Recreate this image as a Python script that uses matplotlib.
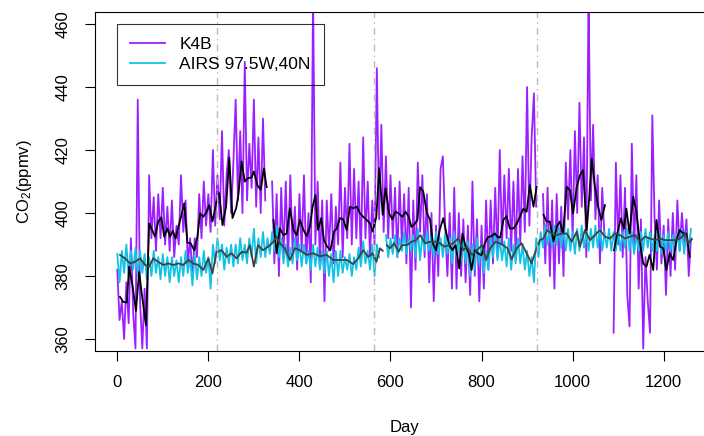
import numpy as np
import matplotlib
matplotlib.use("Agg")
import matplotlib.pyplot as plt

plt.rcParams['font.family'] = ['Liberation Sans', 'DejaVu Sans']
plt.rcParams['mathtext.fontset'] = 'custom'
plt.rcParams['mathtext.rm'] = 'Liberation Sans'
plt.rcParams['mathtext.it'] = 'Liberation Sans'

nan = np.nan

# K4B daily series, sampled every 5 days (day 0 .. 1260)
k4b_days = np.arange(0, 1265, 5)
k4b_co2 = [
    382, 366, 372, 360, 378, 365, 392, 368, 357, 436, 372, 357, 376, 357, 412, 392, 405, 388, 406, 392,
    408, 390, 402, 388, 404, 386, 396, 390, 412, 394, 404, 384, 392, 380, 392, 386, 406, 392, 410, 396,
    406, 394, 420, 396, 412, 398, 426, 396, 412, 420, 400, 416, 436, 404, 426, 400, 448, 404, 422, 408,
    436, 402, 424, 400, 430, 404, nan, nan, 410, 384, 406, 380, 408, 386, 410, 384, 412, 388, 402, 382,
    406, 388, 412, 384, 400, 378, 470, 390, 410, 384, 404, 372, 404, 388, 406, 384, 402, 390, 416, 386,
    408, 392, 422, 390, 414, 392, 410, 386, 424, 392, 410, 386, 404, 390, 446, 398, 428, 394, 418, 392,
    412, 392, 408, 386, 410, 390, 406, 384, 408, 370, 404, 382, 416, 394, 412, 386, 406, 378, 400, 372,
    396, 380, 414, 418, 396, 380, 400, 376, 408, 376, 400, 380, 398, 378, 396, 374, 410, 380, 398, 372,
    396, 376, 404, 382, 404, 384, 408, 386, 420, 390, 412, 392, 414, 388, 410, 386, 414, 390, 418, 394,
    440, 396, 424, 438, 402, nan, nan, 406, 384, 408, 380, 404, 376, 406, 384, 402, 380, 416, 398, 420,
    392, 426, 400, 435, 402, 424, 386, 470, 404, 428, 398, 412, 384, 408, 392, nan, nan, nan, 362, 416,
    390, 412, 386, 408, 374, 364, 422, 388, 412, 376, 398, 357, 386, 372, 362, 431, 398, 382, 404, 384,
    396, 374, 398, 380, 400, 382, 404, 388, 400, 390, 398, 380, 392,
]

# AIRS 97.5W,40N daily series, sampled every 5 days
airs_days = np.arange(0, 1265, 5)
airs_co2 = [
    387, 378, 388, 381, 390, 380, 388, 382, 389, 380, 388, 381, 387, 379, 386, 380, 388, 381, 386, 379,
    387, 380, 386, 378, 386, 380, 385, 378, 386, 380, 388, 381, 386, 377, 387, 379, 386, 380, 388, 381,
    386, 376, 390, 384, 392, 385, 390, 382, 389, 384, 390, 383, 390, 384, 392, 385, 390, 384, 392, 386,
    395, 384, 392, 386, 394, 386, 392, 387, 394, 388, 396, 386, 392, 384, 390, 383, 389, 384, 392, 385,
    390, 383, 390, 384, 388, 382, 390, 383, 389, 382, 388, 381, 388, 380, 387, 378, 388, 380, 388, 381,
    386, 382, 387, 380, 386, 382, 389, 383, 391, 384, 388, 382, 390, 380, 390, 386, nan, nan, 393, 386,
    392, 387, 393, 386, 392, 388, 394, 387, 392, 388, 393, 386, 395, 385, 393, 388, 394, 388, 393, 386,
    394, 387, 392, 386, 393, 387, 392, 384, 394, 386, 392, 385, 392, 384, 391, 380, 390, 382, 392, 384,
    390, 381, 388, 382, 392, 386, 394, 385, 392, 385, 391, 383, 392, 382, 390, 384, 392, 384, 390, 382,
    388, 380, 386, 378, 392, 386, 394, 389, 396, 390, 395, 389, 396, 390, 395, 389, 396, 388, 395, 388,
    394, 387, 395, 388, 396, 389, 394, 388, 395, 389, 396, 389, 395, 388, 394, 389, 395, 388, 394, 388,
    395, 388, 394, 389, 395, 388, 394, 387, 393, 388, 394, 388, 395, 389, 394, 388, 393, 388, 394, 387,
    393, 388, 394, 388, 393, 387, 394, 388, 395, 387, 394, 389, 395,
]

# weekly means of K4B (black)
k4b_wk_days = [6, 13, 21, 26, 34, 41, 48, 56, 63, 70, 83, 90, 97, 103, 110, 116, 122, 128, 134, 140,
               147, 154, 161, 169, 176, 182, 189, 196, 202, 209, 217, 224, 231, 239, 246, 253, 261, 266, 273, 280,
               287, 295, 300, 308, 315, 322, 328, 335, 343, 350, 357, 365, 372, 379, 387, 394, 401, 409, 416, 423,
               429, 435, 441, 448, 454, 461, 468, 476, 482, 489, 496, 504, 511, 518, 526, 533, 540, 548, 555, 561,
               569, 575, 583, 589, 597, 604, 611, 618, 626, 633, 640, 646, 653, 659, 665, 672, 680, 687, 693, 700,
               708, 716, 723, 729, 736, 743, 751, 758, 765, 772, 778, 785, 792, 800, 807, 814, 822, 829, 836, 841,
               848, 855, 862, 870, 877, 884, 892, 899, 906, 914, 921, 928, 936, 943, 950, 958, 965, 972, 979, 987,
               994, 1001, 1009, 1016, 1023, 1031, 1036, 1042, 1049, 1056, 1063, 1071, 1080, 1091, 1098, 1106, 1113, 1118, 1125, 1133,
               1140, 1147, 1155, 1162, 1169, 1177, 1184, 1192, 1199, 1206, 1213, 1221, 1228, 1235, 1243, 1250, 1257]
k4b_wk_co2 = [373.4, 371.8, 371.6, 383.0, 376.5, 368.9, 381.3, 371.8, 364.4, 396.7, 392.5, 397.3, 398.6, 392.5, 395.1, 392.5, 394.4, 391.9, 395.6, 398.8,
              403.1, 390.6, 390.4, 388.2, 392.5, 399.9, 398.8, 400.4, 402.5, 397.3, 403.1, 406.3, 396.2, 402.1, 417.6, 398.4, 401.5, 405.8, 416.4, 410.0,
              411.1, 411.3, 413.2, 408.7, 407.4, 414.2, 408.2, nan, 397.8, 387.2, 395.1, 393.0, 393.5, 401.5, 394.6, 393.0, 397.8, 394.6, 392.7, 395.6,
              402.0, 405.7, 394.6, 398.4, 391.4, 389.3, 388.2, 394.1, 395.1, 398.4, 398.0, 394.6, 402.0, 401.5, 402.0, 399.9, 398.8, 397.8, 396.7, 394.1,
              398.8, 414.2, 399.4, 407.8, 399.9, 398.0, 400.4, 399.9, 398.8, 400.4, 398.8, 395.6, 396.5, 397.8, 408.2, 406.8, 399.9, 397.8, 390.4, 388.2,
              394.6, 398.4, 393.5, 389.8, 388.2, 389.8, 382.4, 393.5, 389.3, 387.2, 381.9, 388.2, 387.2, 386.6, 390.4, 392.3, 392.7, 393.5, 392.3, 392.3,
              397.8, 399.0, 395.1, 395.1, 396.5, 398.8, 401.4, 400.4, 408.9, 402.0, 408.3, nan, 399.4, 397.3, 397.3, 390.9, 395.6, 397.3, 393.5, 408.3,
              407.3, 399.9, 408.3, 412.0, 413.6, 394.6, 404.1, 417.3, 408.3, 402.0, 397.8, 402.5, nan, 388.2, 393.5, 398.3, 395.1, 401.4, 393.5, 405.2,
              400.4, 391.4, 384.0, 382.9, 386.7, 381.9, 397.8, 389.3, 388.8, 381.9, 387.2, 385.1, 391.4, 394.6, 393.5, 393.5, 386.1]

# weekly means of AIRS (dark grey)
airs_wk_days = [6, 17, 28, 39, 50, 61, 70, 79, 90, 101, 112, 123, 134, 145, 156, 167, 178, 189, 200, 209,
                218, 229, 240, 251, 262, 273, 284, 291, 300, 309, 320, 331, 343, 350, 357, 368, 379, 390, 401, 416,
                430, 445, 460, 474, 489, 504, 518, 529, 540, 551, 561, 569, 577, 583, 587, 592, 599, 608, 618, 625,
                636, 647, 656, 665, 676, 687, 698, 709, 718, 727, 738, 749, 760, 768, 779, 790, 801, 810, 819, 830,
                840, 850, 857, 866, 877, 888, 899, 910, 917, 928, 936, 944, 954, 965, 976, 987, 998, 1009, 1016, 1027,
                1038, 1049, 1060, 1071, 1082, 1093, 1104, 1115, 1126, 1137, 1148, 1159, 1170, 1181, 1192, 1203, 1214, 1225, 1236, 1247,
                1254, 1262]
airs_wk_co2 = [386.7, 385.6, 384.0, 384.5, 385.6, 383.5, 383.0, 385.6, 384.5, 383.5, 384.0, 383.5, 384.0, 383.5, 385.1, 384.0, 383.5, 381.9, 385.6, 380.8,
               387.7, 388.2, 386.1, 387.2, 385.6, 387.7, 387.4, 389.8, 383.0, 389.8, 388.2, 389.3, 390.9, 392.5, 390.4, 388.8, 385.1, 388.8, 388.2, 386.7,
               387.2, 386.3, 386.7, 385.1, 385.1, 385.1, 383.8, 385.6, 388.2, 386.1, 387.2, 384.5, 388.8, 388.0, nan, 389.8, 388.8, 390.4, 387.7, 389.8,
               389.8, 390.9, 391.4, 393.0, 390.4, 390.9, 390.9, 390.4, 389.3, 389.8, 390.4, 392.0, 388.2, 389.3, 386.7, 388.2, 389.8, 385.1, 388.8, 390.9,
               390.4, 389.5, 388.8, 385.3, 388.8, 390.4, 387.2, 384.0, 387.2, 391.4, 391.9, 394.6, 393.5, 393.0, 393.5, 393.5, 390.9, 394.1, 389.3, 394.6,
               391.4, 393.0, 394.6, 392.5, 391.9, 393.5, 393.0, 391.9, 392.5, 393.0, 390.9, 392.5, 391.9, 391.4, 391.9, 391.4, 391.4, 391.4, 391.9, 393.5,
               390.4, 391.7]

campaign_breaks = [220, 564, 922]

fig = plt.figure(figsize=(7.04, 4.36), dpi=100)
# the plot box runs past the right edge of the picture, as in the original
ax = fig.add_axes([0.1345, 0.195, 0.8794, 0.778])

ax.plot(k4b_days, k4b_co2, color='#9B1FFF', lw=1.3, label='K4B')
ax.plot(airs_days, airs_co2, color='#12C3E6', lw=1.3, label='AIRS 97.5W,40N')
ax.plot(k4b_wk_days, k4b_wk_co2, color='black', lw=1.3)
ax.plot(airs_wk_days, airs_wk_co2, color='#404040', lw=1.3)
for d in campaign_breaks:
    ax.axvline(d, color='#BBBBBB', lw=1.0, ls=(0, (5, 3, 1, 3)))

ax.set_xlim(-49.6, 1310)
ax.set_ylim(356.2, 463.9)
ax.set_xticks([0, 200, 400, 600, 800, 1000, 1200])
ax.set_yticks([360, 380, 400, 420, 440, 460])
ax.tick_params(direction='out', length=7.2, width=0.8, labelsize=12, pad=10)
for lab in ax.get_yticklabels():
    lab.set_rotation(90)
    lab.set_va('center')
for s in ax.spines.values():
    s.set_linewidth(0.8)
ax.spines['right'].set_visible(False)

ax.set_xlabel('Day', fontsize=12, labelpad=22)
ax.set_ylabel('CO$_2$(ppmv)', fontsize=12, labelpad=16)

leg = ax.legend(loc='upper left', bbox_to_anchor=(0.036, 0.964), borderaxespad=0,
                fontsize=12.5, frameon=True, fancybox=False, handlelength=2.0,
                handletextpad=0.85, borderpad=0.75, labelspacing=0.25)
leg.get_frame().set_facecolor('none')
leg.get_frame().set_edgecolor('black')
leg.get_frame().set_linewidth(0.8)

fig.savefig('out.png', dpi=100)
